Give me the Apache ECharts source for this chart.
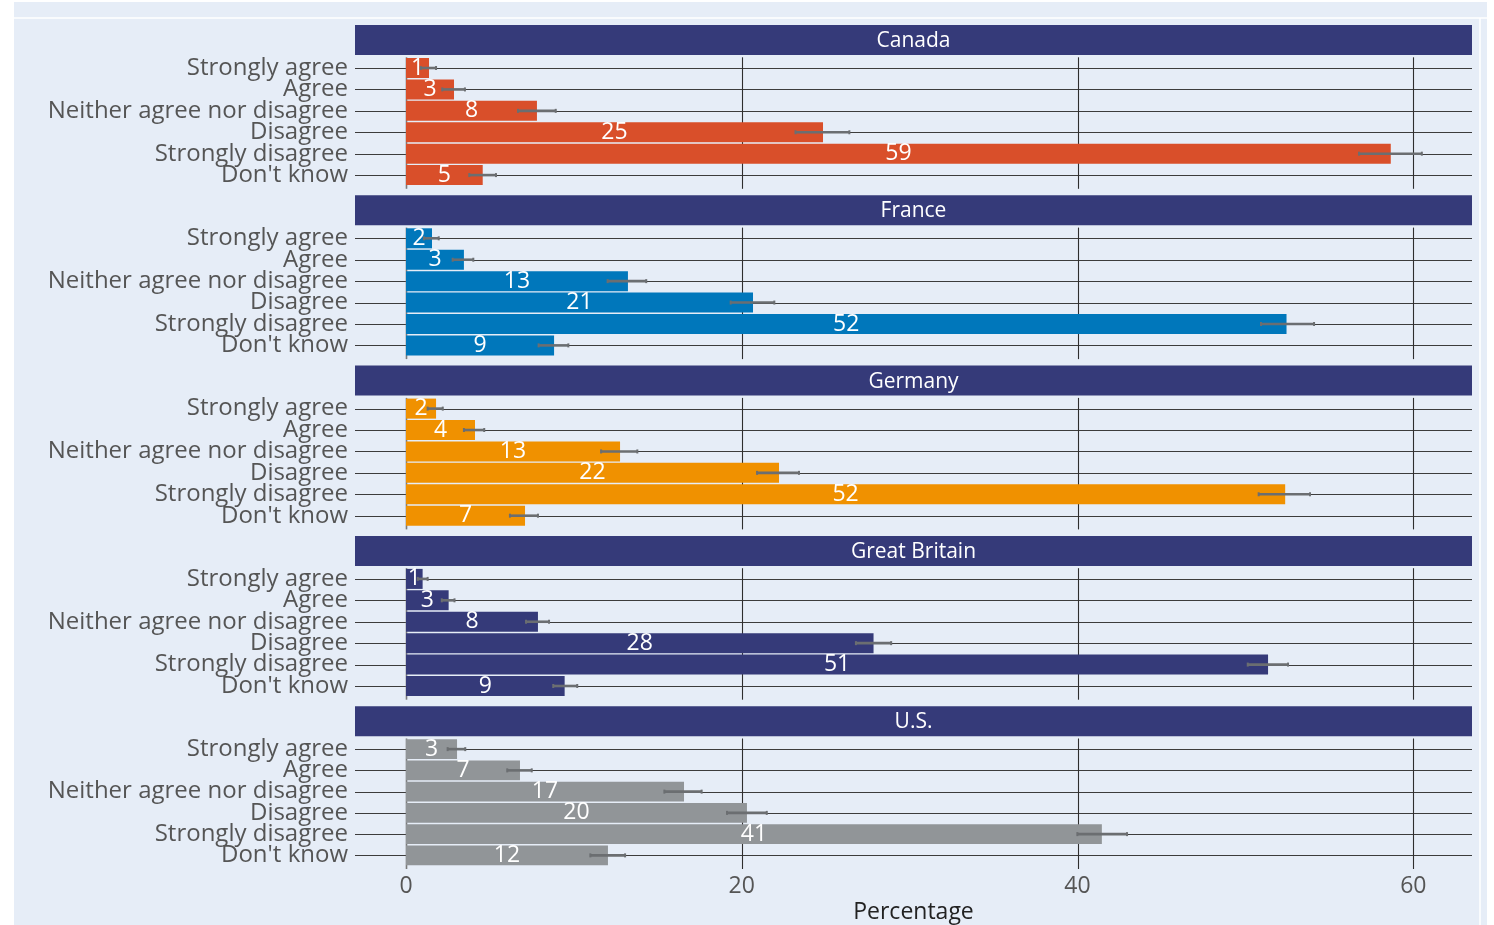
<!DOCTYPE html>
<html>
<head>
<meta charset="utf-8">
<script src="https://cdn.jsdelivr.net/npm/echarts@6/dist/echarts.min.js"></script>
<style>
  html, body { margin: 0; padding: 0; background: #ffffff; }
  #chart { width: 1494px; height: 925px; }
</style>
</head>
<body>
<div id="chart"></div>
<script>
// Survey responses by country (percent of respondents) with confidence intervals
const categories = ['Strongly agree', 'Agree', 'Neither agree nor disagree', 'Disagree', 'Strongly disagree', "Don't know"];
const countries = ['Canada', 'France', 'Germany', 'Great Britain', 'U.S.'];
const countryColors = ['#d94f2a', '#0077bb', '#f09100', '#353a79', '#919598'];

const canadaPct  = [1.37, 2.86, 7.80, 24.84, 58.66, 4.57];
const canadaLow  = [0.88, 2.16, 6.67, 23.20, 56.77, 3.77];
const canadaHigh = [1.79, 3.51, 8.92, 26.41, 60.51, 5.36];

const francePct  = [1.55, 3.45, 13.22, 20.67, 52.45, 8.82];
const franceLow  = [1.07, 2.78, 12.01, 19.34, 50.93, 7.90];
const franceHigh = [1.95, 4.01, 14.31, 21.94, 54.09, 9.67];

const germanyPct  = [1.79, 4.11, 12.75, 22.22, 52.37, 7.09];
const germanyLow  = [1.29, 3.45, 11.62, 20.91, 50.79, 6.19];
const germanyHigh = [2.19, 4.66, 13.78, 23.41, 53.85, 7.86];

const britainPct  = [0.99, 2.54, 7.86, 27.85, 51.35, 9.45];
const britainLow  = [0.70, 2.13, 7.15, 26.80, 50.14, 8.77];
const britainHigh = [1.29, 2.89, 8.52, 28.90, 52.54, 10.20];

const usPct  = [3.04, 6.79, 16.56, 20.31, 41.45, 12.03];
const usLow  = [2.48, 6.03, 15.39, 19.12, 39.99, 10.98];
const usHigh = [3.53, 7.49, 17.61, 21.49, 42.95, 13.05];

const xTicks = [0, 20, 40, 60];
const axisTitle = 'Percentage';

const pctByCountry  = [canadaPct, francePct, germanyPct, britainPct, usPct];
const lowByCountry  = [canadaLow, franceLow, germanyLow, britainLow, usLow];
const highByCountry = [canadaHigh, franceHigh, germanyHigh, britainHigh, usHigh];

// facet layout
const FONT = '"Open Sans", "Noto Sans", sans-serif';
const plotLeft = 355, plotRight = 1472;
const firstHeaderTop = 25, panelPitch = 170.3, headerH = 30;
const gridGap = 2.3, gridH = 128.5;
const xMin = -3.038, xMax = 63.498;

const chart = echarts.init(document.getElementById('chart'), null, { renderer: 'canvas' });

const grids = [], xAxes = [], yAxes = [], series = [], graphics = [];

// page backdrop
graphics.push({ type: 'rect', z: -10, silent: true, shape: { x: 14, y: 2, width: 1473, height: 923 }, style: { fill: '#e6edf7' } });
graphics.push({ type: 'line', z: -9, silent: true, shape: { x1: 14, y1: 18, x2: 1487, y2: 18 }, style: { stroke: '#ffffff', lineWidth: 1.5 } });
graphics.push({ type: 'line', z: -9, silent: true, shape: { x1: 1480, y1: 18, x2: 1480, y2: 925 }, style: { stroke: '#ffffff', lineWidth: 1.5 } });

countries.forEach((name, i) => {
  const headerTop = firstHeaderTop + panelPitch * i;
  const gridTop = headerTop + headerH + gridGap;
  const isLast = i === countries.length - 1;

  graphics.push({
    type: 'rect', z: 5, silent: true,
    shape: { x: plotLeft, y: headerTop, width: plotRight - plotLeft, height: headerH },
    style: { fill: '#353a79' }
  });
  graphics.push({
    type: 'text', z: 6, silent: true,
    x: (plotLeft + plotRight) / 2, y: headerTop + headerH / 2 + 1,
    style: { text: name, fill: '#ffffff', font: '21px ' + FONT, textAlign: 'center', textVerticalAlign: 'middle' }
  });

  grids.push({ left: plotLeft, width: plotRight - plotLeft, top: gridTop, height: gridH, containLabel: false });

  xAxes.push({
    type: 'value', gridIndex: i, min: xMin, max: xMax,
    axisLine: { show: false }, axisTick: { show: false }, splitLine: { show: false },
    axisLabel: isLast ? {
      show: true, customValues: xTicks, color: '#555555', fontSize: 23, fontFamily: FONT, margin: 9
    } : { show: false },
    name: isLast ? axisTitle : '',
    nameLocation: 'middle', nameGap: 35,
    nameTextStyle: { color: '#222222', fontSize: 23, fontFamily: FONT }
  });

  yAxes.push({
    type: 'category', gridIndex: i, data: categories, inverse: true,
    axisLine: { show: false, onZero: false }, axisTick: { show: false }, splitLine: { show: false },
    axisLabel: { interval: 0, color: '#555555', fontSize: 24, fontFamily: FONT, margin: 7, lineHeight: 22, padding: [3, 0, 0, 0] }
  });

  // horizontal gridlines at each category
  series.push({
    type: 'custom', xAxisIndex: i, yAxisIndex: i, z: 1, silent: true,
    data: categories.map((c, k) => [0, k]),
    encode: { x: 0, y: 1 },
    renderItem: (params, api) => {
      const cs = params.coordSys;
      const y = Math.round(api.coord([0, api.value(1)])[1]) + 0.5;
      return { type: 'line', shape: { x1: cs.x, y1: y, x2: cs.x + cs.width, y2: y },
               style: { stroke: '#3c3c3c', lineWidth: 1.2 } };
    }
  });

  // vertical gridlines at tick values
  series.push({
    type: 'custom', xAxisIndex: i, yAxisIndex: i, z: 1, silent: true,
    data: xTicks.map(v => [v, 0]),
    encode: { x: 0, y: 1 },
    renderItem: (params, api) => {
      const cs = params.coordSys;
      const v = api.value(0);
      const x = Math.round(api.coord([v, 0])[0]) + 0.5;
      return { type: 'line', shape: { x1: x, y1: cs.y, x2: x, y2: cs.y + cs.height + 3 },
               style: { stroke: v === 0 ? '#7a7a7a' : '#2e2e2e', lineWidth: v === 0 ? 1.6 : 1.1 } };
    }
  });

  series.push({
    type: 'bar', name: name, xAxisIndex: i, yAxisIndex: i, z: 2,
    data: pctByCountry[i],
    barCategoryGap: '6.5%',
    itemStyle: { color: countryColors[i] },
    label: {
      show: true, position: 'inside', color: '#ffffff', fontSize: 23, fontFamily: FONT,
      padding: [3, 0, 0, 0],
      formatter: p => String(Math.round(p.value))
    },
    silent: true, animation: false
  });

  // confidence interval whiskers
  series.push({
    type: 'custom', xAxisIndex: i, yAxisIndex: i, z: 4, silent: true,
    data: categories.map((c, k) => [lowByCountry[i][k], highByCountry[i][k], k]),
    encode: { x: [0, 1], y: 2 },
    renderItem: (params, api) => {
      const k = api.value(2);
      const a = api.coord([api.value(0), k]);
      const b = api.coord([api.value(1), k]);
      const y = a[1];
      const st = { stroke: '#6b6e71', lineWidth: 2.6 };
      return {
        type: 'group',
        children: [
          { type: 'line', shape: { x1: a[0], y1: y, x2: b[0], y2: y }, style: st },
          { type: 'line', shape: { x1: a[0], y1: y - 2, x2: a[0], y2: y + 2 }, style: { stroke: '#6b6e71', lineWidth: 2 } },
          { type: 'line', shape: { x1: b[0], y1: y - 2, x2: b[0], y2: y + 2 }, style: { stroke: '#6b6e71', lineWidth: 2 } }
        ]
      };
    }
  });
});

chart.setOption({
  backgroundColor: '#ffffff',
  animation: false,
  grid: grids,
  xAxis: xAxes,
  yAxis: yAxes,
  series: series,
  graphic: { elements: graphics }
});
</script>
</body>
</html>
